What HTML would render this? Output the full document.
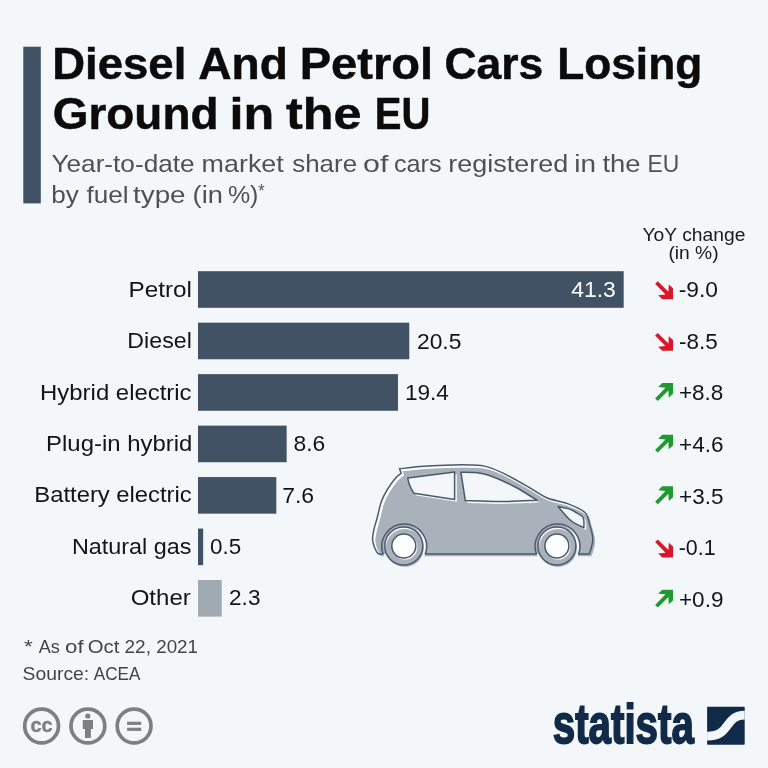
<!DOCTYPE html>
<html lang="en"><head><meta charset="utf-8"><title>Diesel And Petrol Cars Losing Ground in the EU</title>
<style>
html,body{margin:0;padding:0;background:#f3f7fa;}
svg{display:block;font-family:"Liberation Sans", sans-serif;}
text{white-space:pre;}
</style></head>
<body>
<svg width="768" height="768" viewBox="0 0 768 768">
<rect width="768" height="768" fill="#f3f7fa"/>
<rect x="23.3" y="46.7" width="17.5" height="156.7" fill="#405263"/>
<rect x="198" y="271.20" width="425.68" height="36.6" fill="#405263"/>
<rect x="198" y="322.67" width="211.29" height="36.6" fill="#405263"/>
<rect x="198" y="374.14" width="199.96" height="36.6" fill="#405263"/>
<rect x="198" y="425.61" width="88.64" height="36.6" fill="#405263"/>
<rect x="198" y="477.08" width="78.33" height="36.6" fill="#405263"/>
<rect x="198" y="528.55" width="5.15" height="36.6" fill="#405263"/>
<rect x="198" y="580.02" width="23.71" height="36.6" fill="#a0aab2"/>
<polygon fill="#d7182a" points="655.10,283.75 657.80,281.25 668.40,291.75 668.80,284.55 673.00,288.35 673.00,299.15 662.20,299.15 658.20,295.15 665.50,294.45"/>
<polygon fill="#d7182a" points="655.10,335.40 657.80,332.90 668.40,343.40 668.80,336.20 673.00,340.00 673.00,350.80 662.20,350.80 658.20,346.80 665.50,346.10"/>
<polygon fill="#1f9a30" points="655.10,398.45 657.80,400.95 668.40,390.45 668.80,397.65 673.00,393.85 673.00,383.05 662.20,383.05 658.20,387.05 665.50,387.75"/>
<polygon fill="#1f9a30" points="655.10,450.10 657.80,452.60 668.40,442.10 668.80,449.30 673.00,445.50 673.00,434.70 662.20,434.70 658.20,438.70 665.50,439.40"/>
<polygon fill="#1f9a30" points="655.10,501.75 657.80,504.25 668.40,493.75 668.80,500.95 673.00,497.15 673.00,486.35 662.20,486.35 658.20,490.35 665.50,491.05"/>
<polygon fill="#d7182a" points="655.10,542.00 657.80,539.50 668.40,550.00 668.80,542.80 673.00,546.60 673.00,557.40 662.20,557.40 658.20,553.40 665.50,552.70"/>
<polygon fill="#1f9a30" points="655.10,605.05 657.80,607.55 668.40,597.05 668.80,604.25 673.00,600.45 673.00,589.65 662.20,589.65 658.20,593.65 665.50,594.35"/>
<g>
<clipPath id="cb"><path d="M399.6,468.8 C403.00,468.43 412.43,467.20 420.00,466.60 C427.57,466.00 436.67,465.47 445.00,465.20 C453.33,464.93 462.97,464.72 470.00,465.00 C477.03,465.28 480.95,465.18 487.20,466.90 C493.45,468.62 500.10,471.63 507.50,475.30 C514.90,478.97 527.58,486.63 531.60,488.90 C534.20,490.42 541.22,495.55 547.20,498.00 C553.18,500.45 561.25,501.23 567.50,503.60 C573.75,505.97 581.05,508.84 584.70,512.20 C588.35,515.56 588.05,519.22 589.40,523.75 C590.75,528.28 592.80,534.36 592.80,539.40 C592.80,544.44 589.97,551.57 589.40,554.00 L578.61,554.0 A22.4,22.4 0 1 0 536.39,554.0 L425.31,554.0 A22.4,22.4 0 1 0 383.09,554.0 L378.8,554.0 C378.42,553.62 377.40,553.37 376.50,551.70 C375.60,550.03 374.05,546.32 373.40,544.00 C372.75,541.68 372.47,540.40 372.60,537.80 C372.73,535.20 373.42,531.78 374.20,528.40 C374.98,525.02 376.13,521.92 377.30,517.50 C378.47,513.08 379.52,506.58 381.20,501.90 C382.88,497.22 385.06,493.32 387.40,489.40 C389.74,485.48 392.95,481.07 395.25,478.40 C397.55,475.73 400.21,474.23 401.20,473.40 Z"/></clipPath>
<clipPath id="ab"><rect x="360" y="450" width="250" height="104.0"/></clipPath>
<path d="M399.6,468.8 C403.00,468.43 412.43,467.20 420.00,466.60 C427.57,466.00 436.67,465.47 445.00,465.20 C453.33,464.93 462.97,464.72 470.00,465.00 C477.03,465.28 480.95,465.18 487.20,466.90 C493.45,468.62 500.10,471.63 507.50,475.30 C514.90,478.97 527.58,486.63 531.60,488.90 C534.20,490.42 541.22,495.55 547.20,498.00 C553.18,500.45 561.25,501.23 567.50,503.60 C573.75,505.97 581.05,508.84 584.70,512.20 C588.35,515.56 588.05,519.22 589.40,523.75 C590.75,528.28 592.80,534.36 592.80,539.40 C592.80,544.44 589.97,551.57 589.40,554.00 L578.61,554.0 A22.4,22.4 0 1 0 536.39,554.0 L425.31,554.0 A22.4,22.4 0 1 0 383.09,554.0 L378.8,554.0 C378.42,553.62 377.40,553.37 376.50,551.70 C375.60,550.03 374.05,546.32 373.40,544.00 C372.75,541.68 372.47,540.40 372.60,537.80 C372.73,535.20 373.42,531.78 374.20,528.40 C374.98,525.02 376.13,521.92 377.30,517.50 C378.47,513.08 379.52,506.58 381.20,501.90 C382.88,497.22 385.06,493.32 387.40,489.40 C389.74,485.48 392.95,481.07 395.25,478.40 C397.55,475.73 400.21,474.23 401.20,473.40 Z" fill="#fbfdfe"/>
<path d="M399.6,468.8 C403.00,468.43 412.43,467.20 420.00,466.60 C427.57,466.00 436.67,465.47 445.00,465.20 C453.33,464.93 462.97,464.72 470.00,465.00 C477.03,465.28 480.95,465.18 487.20,466.90 C493.45,468.62 500.10,471.63 507.50,475.30 C514.90,478.97 527.58,486.63 531.60,488.90 C534.20,490.42 541.22,495.55 547.20,498.00 C553.18,500.45 561.25,501.23 567.50,503.60 C573.75,505.97 581.05,508.84 584.70,512.20 C588.35,515.56 588.05,519.22 589.40,523.75 C590.75,528.28 592.80,534.36 592.80,539.40 C592.80,544.44 589.97,551.57 589.40,554.00 L378.8,554.0 C378.42,553.62 377.40,553.37 376.50,551.70 C375.60,550.03 374.05,546.32 373.40,544.00 C372.75,541.68 372.47,540.40 372.60,537.80 C372.73,535.20 373.42,531.78 374.20,528.40 C374.98,525.02 376.13,521.92 377.30,517.50 C378.47,513.08 379.52,506.58 381.20,501.90 C382.88,497.22 385.06,493.32 387.40,489.40 C389.74,485.48 392.95,481.07 395.25,478.40 C397.55,475.73 400.21,474.23 401.20,473.40 Z" fill="#a9b2bb" transform="translate(2.3,2.3)"/>
<g clip-path="url(#cb)"><path d="M399.6,468.8 C403.00,468.43 412.43,467.20 420.00,466.60 C427.57,466.00 436.67,465.47 445.00,465.20 C453.33,464.93 462.97,464.72 470.00,465.00 C477.03,465.28 480.95,465.18 487.20,466.90 C493.45,468.62 500.10,471.63 507.50,475.30 C514.90,478.97 527.58,486.63 531.60,488.90 C534.20,490.42 541.22,495.55 547.20,498.00 C553.18,500.45 561.25,501.23 567.50,503.60 C573.75,505.97 581.05,508.84 584.70,512.20 C588.35,515.56 588.05,519.22 589.40,523.75 C590.75,528.28 592.80,534.36 592.80,539.40 C592.80,544.44 589.97,551.57 589.40,554.00 L378.8,554.0 C378.42,553.62 377.40,553.37 376.50,551.70 C375.60,550.03 374.05,546.32 373.40,544.00 C372.75,541.68 372.47,540.40 372.60,537.80 C372.73,535.20 373.42,531.78 374.20,528.40 C374.98,525.02 376.13,521.92 377.30,517.50 C378.47,513.08 379.52,506.58 381.20,501.90 C382.88,497.22 385.06,493.32 387.40,489.40 C389.74,485.48 392.95,481.07 395.25,478.40 C397.55,475.73 400.21,474.23 401.20,473.40 Z" fill="none" stroke="#fbfdfe" stroke-width="2.4" transform="translate(1.5,1.5)"/></g>
<circle cx="404.2" cy="546.5" r="22.4" fill="#f3f7fa"/>
<clipPath id="wr"><circle cx="404.2" cy="546.5" r="22.4"/></clipPath>
<g clip-path="url(#wr)"><g clip-path="url(#ab)"><circle cx="400.7" cy="545.0" r="22.099999999999998" fill="#a9b2bb"/></g></g>
<circle cx="557.5" cy="546.5" r="22.4" fill="#f3f7fa"/>
<clipPath id="wf"><circle cx="557.5" cy="546.5" r="22.4"/></clipPath>
<g clip-path="url(#wf)"><g clip-path="url(#ab)"><circle cx="554.0" cy="545.0" r="22.099999999999998" fill="#a9b2bb"/></g></g>
<g fill="#f3f7fa" transform="translate(2.3,2.3)"><path d="M407.75,478.1 L454.6,471.9 L454.6,499.5 L414,493.3 Q409,486 407.75,478.1 Z"/><path d="M460.9,472.2 C463.25,472.27 470.36,472.08 475.00,472.60 C479.64,473.12 482.29,473.03 488.75,475.30 C495.21,477.57 505.68,482.08 513.75,486.25 C521.83,490.42 533.29,497.96 537.20,500.30 C531.00,500.52 511.98,501.55 500.00,501.60 C488.02,501.65 471.08,500.77 465.30,500.60 Z"/><path d="M558.1,506.6 C559.75,506.93 565.13,507.70 568.00,508.60 C570.87,509.50 572.78,510.52 575.30,512.00 C577.82,513.48 581.67,514.88 583.10,517.50 C584.53,520.12 583.77,526.00 583.90,527.70 C582.58,527.08 578.48,525.45 576.00,524.00 C573.52,522.55 571.98,521.90 569.00,519.00 C566.02,516.10 559.92,508.67 558.10,506.60 Z"/></g>
<g fill="#f3f7fa" stroke="#4a596c" stroke-width="1.5" stroke-linejoin="round"><path d="M407.75,478.1 L454.6,471.9 L454.6,499.5 L414,493.3 Q409,486 407.75,478.1 Z"/><path d="M460.9,472.2 C463.25,472.27 470.36,472.08 475.00,472.60 C479.64,473.12 482.29,473.03 488.75,475.30 C495.21,477.57 505.68,482.08 513.75,486.25 C521.83,490.42 533.29,497.96 537.20,500.30 C531.00,500.52 511.98,501.55 500.00,501.60 C488.02,501.65 471.08,500.77 465.30,500.60 Z"/><path d="M558.1,506.6 C559.75,506.93 565.13,507.70 568.00,508.60 C570.87,509.50 572.78,510.52 575.30,512.00 C577.82,513.48 581.67,514.88 583.10,517.50 C584.53,520.12 583.77,526.00 583.90,527.70 C582.58,527.08 578.48,525.45 576.00,524.00 C573.52,522.55 571.98,521.90 569.00,519.00 C566.02,516.10 559.92,508.67 558.10,506.60 Z"/></g>
<path d="M399.6,468.8 C403.00,468.43 412.43,467.20 420.00,466.60 C427.57,466.00 436.67,465.47 445.00,465.20 C453.33,464.93 462.97,464.72 470.00,465.00 C477.03,465.28 480.95,465.18 487.20,466.90 C493.45,468.62 500.10,471.63 507.50,475.30 C514.90,478.97 527.58,486.63 531.60,488.90 C534.20,490.42 541.22,495.55 547.20,498.00 C553.18,500.45 561.25,501.23 567.50,503.60 C573.75,505.97 581.05,508.84 584.70,512.20 C588.35,515.56 588.05,519.22 589.40,523.75 C590.75,528.28 592.80,534.36 592.80,539.40 C592.80,544.44 589.97,551.57 589.40,554.00 L578.61,554.0 A22.4,22.4 0 1 0 536.39,554.0 L425.31,554.0 A22.4,22.4 0 1 0 383.09,554.0 L378.8,554.0 C378.42,553.62 377.40,553.37 376.50,551.70 C375.60,550.03 374.05,546.32 373.40,544.00 C372.75,541.68 372.47,540.40 372.60,537.80 C372.73,535.20 373.42,531.78 374.20,528.40 C374.98,525.02 376.13,521.92 377.30,517.50 C378.47,513.08 379.52,506.58 381.20,501.90 C382.88,497.22 385.06,493.32 387.40,489.40 C389.74,485.48 392.95,481.07 395.25,478.40 C397.55,475.73 400.21,474.23 401.20,473.40 Z" fill="none" stroke="#4a596c" stroke-width="1.5" stroke-linejoin="round"/>
<circle cx="403.8" cy="546.0" r="19" fill="#fbfdfe"/>
<circle cx="404.8" cy="548.0" r="19" fill="#a9b2bb"/>
<circle cx="403.8" cy="546.0" r="19" fill="none" stroke="#4a596c" stroke-width="1.5"/>
<circle cx="405.0" cy="547.2" r="12.3" fill="#fbfdfe"/>
<circle cx="403.8" cy="546.0" r="12" fill="#fbfdfe" stroke="#4a596c" stroke-width="1.5"/>
<circle cx="556.9" cy="546.0" r="19" fill="#fbfdfe"/>
<circle cx="557.9" cy="548.0" r="19" fill="#a9b2bb"/>
<circle cx="556.9" cy="546.0" r="19" fill="none" stroke="#4a596c" stroke-width="1.5"/>
<circle cx="558.1" cy="547.2" r="12.3" fill="#fbfdfe"/>
<circle cx="556.9" cy="546.0" r="12" fill="#fbfdfe" stroke="#4a596c" stroke-width="1.5"/>
</g>
<g role="text" aria-label="Diesel And Petrol Cars Losing">
<text transform="translate(52.15,78.95) scale(1.0348,1)" font-size="44" font-weight="700" fill="#0b0b0b" stroke="#0b0b0b" stroke-width="0.5" stroke-linejoin="miter" vector-effect="non-scaling-stroke">Diesel</text>
<text transform="translate(198.24,78.95) scale(1.0486,1)" font-size="44" font-weight="700" fill="#0b0b0b" stroke="#0b0b0b" stroke-width="0.5" stroke-linejoin="miter" vector-effect="non-scaling-stroke">And</text>
<text transform="translate(299.64,78.95) scale(1.0709,1)" font-size="44" font-weight="700" fill="#0b0b0b" stroke="#0b0b0b" stroke-width="0.5" stroke-linejoin="miter" vector-effect="non-scaling-stroke">Petrol</text>
<text transform="translate(444.48,78.95) scale(1.0101,1)" font-size="44" font-weight="700" fill="#0b0b0b" stroke="#0b0b0b" stroke-width="0.5" stroke-linejoin="miter" vector-effect="non-scaling-stroke">Cars</text>
<text transform="translate(557.23,78.95) scale(1.0054,1)" font-size="44" font-weight="700" fill="#0b0b0b" stroke="#0b0b0b" stroke-width="0.5" stroke-linejoin="miter" vector-effect="non-scaling-stroke">Losing</text>
</g>
<g role="text" aria-label="Ground in the EU">
<text transform="translate(52.83,128.75) scale(1.0425,1)" font-size="44" font-weight="700" fill="#0b0b0b" stroke="#0b0b0b" stroke-width="0.5" stroke-linejoin="miter" vector-effect="non-scaling-stroke">Ground</text>
<text transform="translate(229.52,128.75) scale(1.1433,1)" font-size="44" font-weight="700" fill="#0b0b0b" stroke="#0b0b0b" stroke-width="0.5" stroke-linejoin="miter" vector-effect="non-scaling-stroke">in</text>
<text transform="translate(285.98,128.75) scale(1.1437,1)" font-size="44" font-weight="700" fill="#0b0b0b" stroke="#0b0b0b" stroke-width="0.5" stroke-linejoin="miter" vector-effect="non-scaling-stroke">the</text>
<text transform="translate(374.82,128.75) scale(0.9099,1)" font-size="44" font-weight="700" fill="#0b0b0b" stroke="#0b0b0b" stroke-width="0.5" stroke-linejoin="miter" vector-effect="non-scaling-stroke">EU</text>
</g>
<g role="text" aria-label="Year-to-date market share of cars registered in the EU">
<text transform="translate(51.45,172.00) scale(1.0921,1)" font-size="24" font-weight="400" fill="#4d5257">Year-to-date</text>
<text transform="translate(201.62,172.00) scale(1.1206,1)" font-size="24" font-weight="400" fill="#4d5257">market</text>
<text transform="translate(292.19,172.00) scale(1.0815,1)" font-size="24" font-weight="400" fill="#4d5257">share</text>
<text transform="translate(363.04,172.00) scale(1.2632,1)" font-size="24" font-weight="400" fill="#4d5257">of</text>
<text transform="translate(393.95,172.00) scale(1.0506,1)" font-size="24" font-weight="400" fill="#4d5257">cars</text>
<text transform="translate(448.31,172.00) scale(1.1248,1)" font-size="24" font-weight="400" fill="#4d5257">registered</text>
<text transform="translate(574.26,172.00) scale(1.1613,1)" font-size="24" font-weight="400" fill="#4d5257">in</text>
<text transform="translate(602.41,172.00) scale(1.1437,1)" font-size="24" font-weight="400" fill="#4d5257">the</text>
<text transform="translate(647.39,172.00) scale(0.9525,1)" font-size="24" font-weight="400" fill="#4d5257">EU</text>
</g>
<g role="text" aria-label="by fuel type (in %)">
<text transform="translate(51.27,203.30) scale(1.0863,1)" font-size="24" font-weight="400" fill="#4d5257">by</text>
<text transform="translate(86.43,203.30) scale(1.0884,1)" font-size="24" font-weight="400" fill="#4d5257">fuel</text>
<text transform="translate(133.01,203.30) scale(1.1591,1)" font-size="24" font-weight="400" fill="#4d5257">type</text>
<text transform="translate(192.60,203.30) scale(1.1362,1)" font-size="24" font-weight="400" fill="#4d5257">(in</text>
<text transform="translate(227.92,203.30) scale(1.0407,1)" font-size="24" font-weight="400" fill="#4d5257">%)</text>
</g>
<text transform="translate(258.19,197.00) scale(0.8593,1)" font-size="19" font-weight="400" fill="#4d5257">*</text>
<text transform="translate(642.48,240.80) scale(1.0431,1)" font-size="18.5" font-weight="400" fill="#1a1a1a">YoY change</text>
<text transform="translate(668.40,259.20) scale(1.0391,1)" font-size="18.5" font-weight="400" fill="#1a1a1a">(in %)</text>
<text transform="translate(128.46,296.80) scale(1.1060,1)" font-size="22" font-weight="400" fill="#141414">Petrol</text>
<text transform="translate(127.35,348.15) scale(1.0552,1)" font-size="22" font-weight="400" fill="#141414">Diesel</text>
<text transform="translate(40.10,399.50) scale(1.0876,1)" font-size="22" font-weight="400" fill="#141414">Hybrid electric</text>
<text transform="translate(46.10,450.85) scale(1.0876,1)" font-size="22" font-weight="400" fill="#141414">Plug-in hybrid</text>
<text transform="translate(34.36,502.20) scale(1.0822,1)" font-size="22" font-weight="400" fill="#141414">Battery electric</text>
<text transform="translate(71.89,553.55) scale(1.0636,1)" font-size="22" font-weight="400" fill="#141414">Natural gas</text>
<text transform="translate(130.66,604.90) scale(1.0930,1)" font-size="22" font-weight="400" fill="#141414">Other</text>
<text transform="translate(571.18,297.15) scale(1.0424,1)" font-size="22" font-weight="400" fill="#ffffff">41.3</text>
<text transform="translate(416.96,348.50) scale(1.0380,1)" font-size="22" font-weight="400" fill="#141414">20.5</text>
<text transform="translate(404.90,399.85) scale(1.0272,1)" font-size="22" font-weight="400" fill="#141414">19.4</text>
<text transform="translate(293.56,451.20) scale(1.0365,1)" font-size="22" font-weight="400" fill="#141414">8.6</text>
<text transform="translate(282.19,502.55) scale(1.0456,1)" font-size="22" font-weight="400" fill="#141414">7.6</text>
<text transform="translate(210.03,553.90) scale(1.0207,1)" font-size="22" font-weight="400" fill="#141414">0.5</text>
<text transform="translate(229.07,605.25) scale(1.0261,1)" font-size="22" font-weight="400" fill="#141414">2.3</text>
<text transform="translate(678.66,297.10) scale(1.0361,1)" font-size="22" font-weight="400" fill="#141414">-9.0</text>
<text transform="translate(678.98,348.75) scale(1.0208,1)" font-size="22" font-weight="400" fill="#141414">-8.5</text>
<text transform="translate(678.88,400.40) scale(1.0241,1)" font-size="22" font-weight="400" fill="#141414">+8.8</text>
<text transform="translate(678.98,452.05) scale(1.0241,1)" font-size="22" font-weight="400" fill="#141414">+4.6</text>
<text transform="translate(678.98,503.70) scale(1.0241,1)" font-size="22" font-weight="400" fill="#141414">+3.5</text>
<text transform="translate(678.73,555.35) scale(0.9734,1)" font-size="22" font-weight="400" fill="#141414">-0.1</text>
<text transform="translate(678.98,607.00) scale(1.0230,1)" font-size="22" font-weight="400" fill="#141414">+0.9</text>
<g role="text" aria-label="* As of Oct 22, 2021">
<text transform="translate(23.95,653.40) scale(1.1852,1)" font-size="19" font-weight="400" fill="#444444">*</text>
<text transform="translate(38.75,653.40) scale(0.9535,1)" font-size="19" font-weight="400" fill="#444444">As</text>
<text transform="translate(65.12,653.40) scale(1.1667,1)" font-size="19" font-weight="400" fill="#444444">of</text>
<text transform="translate(87.68,653.40) scale(1.0702,1)" font-size="19" font-weight="400" fill="#444444">Oct</text>
<text transform="translate(124.50,653.40) scale(1.0000,1)" font-size="19" font-weight="400" fill="#444444">22,</text>
<text transform="translate(156.26,653.40) scale(0.9876,1)" font-size="19" font-weight="400" fill="#444444">2021</text>
</g>
<g role="text" aria-label="Source: ACEA">
<text transform="translate(22.58,680.00) scale(1.0183,1)" font-size="19" font-weight="400" fill="#444444">Source:</text>
<text transform="translate(93.75,680.00) scale(0.9014,1)" font-size="19" font-weight="400" fill="#444444">ACEA</text>
</g>
<text transform="translate(30.39,731.70) scale(0.9500,1)" font-size="21" font-weight="700" fill="#7c8080" stroke="#7c8080" stroke-width="0.4" stroke-linejoin="miter" vector-effect="non-scaling-stroke">cc</text>
<text transform="translate(552.73,743.10) scale(0.7330,1)" font-size="55" font-weight="700" fill="#102a48" stroke="#102a48" stroke-width="1.6" stroke-linejoin="miter" vector-effect="non-scaling-stroke">statista</text>
<g fill="none" stroke="#7c8080" stroke-width="3.7">
<circle cx="41.6" cy="726.0" r="16.9"/><circle cx="87.9" cy="726.0" r="16.9"/><circle cx="134.1" cy="726.0" r="16.9"/>
</g>
<g fill="#7c8080">
<circle cx="87.8" cy="716" r="2.6"/>
<path d="M82.7,720.1 h10.3 v8.8 h-2.1 v9.1 h-5.9 v-9.1 h-2.3 z"/>
<rect x="127.1" y="721.7" width="14.1" height="3.2"/><rect x="127.1" y="727.7" width="14.1" height="3.2"/>
</g>
<g>
<rect x="707.1" y="706.8" width="37.6" height="37.9" rx="0.8" fill="#102a48"/>
<clipPath id="lm"><rect x="707.1" y="706.8" width="37.6" height="37.9"/></clipPath>
<path d="M705,736.2 L707.1,736.2 C731.5,736.2 724,715.2 744.7,715.2 L747,715.2" fill="none" stroke="#f3f7fa" stroke-width="8.8" clip-path="url(#lm)"/>
</g>
</svg>
</body></html>
